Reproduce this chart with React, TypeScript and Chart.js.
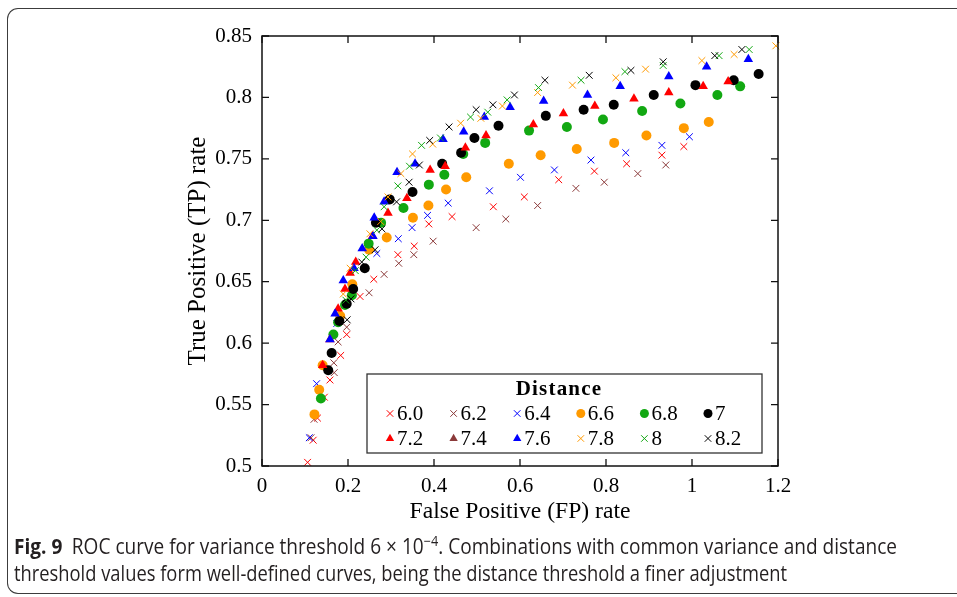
import React, { useEffect, useLayoutEffect, useRef } from 'react';
import { Chart, registerables } from 'chart.js';

Chart.register(...registerables);

// ---------- data ----------
const seriesLabels = ['6.0', '6.2', '6.4', '6.6', '6.8', '7', '7.2', '7.4', '7.6', '7.8', '8', '8.2'];

const d60: [number, number][] = [
  [0.106, 0.503], [0.119, 0.521], [0.129, 0.539], [0.145, 0.556], [0.158, 0.570], [0.183, 0.590],
  [0.197, 0.607], [0.228, 0.638], [0.260, 0.652], [0.316, 0.672], [0.354, 0.679], [0.388, 0.697],
  [0.442, 0.703], [0.538, 0.711], [0.610, 0.719], [0.690, 0.733], [0.773, 0.740], [0.848, 0.746],
  [0.930, 0.753], [0.981, 0.760],
];
const d62: [number, number][] = [
  [0.114, 0.523], [0.121, 0.538], [0.168, 0.576], [0.167, 0.584], [0.177, 0.601], [0.197, 0.613],
  [0.249, 0.641], [0.284, 0.656], [0.318, 0.665], [0.353, 0.672], [0.398, 0.683], [0.498, 0.694],
  [0.567, 0.701], [0.641, 0.712], [0.730, 0.726], [0.796, 0.731], [0.874, 0.738], [0.939, 0.745],
];
const d64: [number, number][] = [
  [0.110, 0.523], [0.127, 0.567], [0.174, 0.616], [0.267, 0.673], [0.317, 0.685], [0.349, 0.694],
  [0.385, 0.704], [0.433, 0.714], [0.529, 0.724], [0.601, 0.735], [0.680, 0.741], [0.765, 0.749],
  [0.846, 0.755], [0.930, 0.761], [0.994, 0.768],
];
const d66: [number, number][] = [
  [0.122, 0.542], [0.133, 0.562], [0.141, 0.582], [0.182, 0.622], [0.210, 0.648], [0.249, 0.676],
  [0.290, 0.686], [0.351, 0.702], [0.387, 0.712], [0.428, 0.725], [0.475, 0.735], [0.574, 0.746],
  [0.648, 0.753], [0.732, 0.758], [0.819, 0.763], [0.894, 0.769], [0.981, 0.775], [1.039, 0.780],
];
const d68: [number, number][] = [
  [0.137, 0.555], [0.166, 0.607], [0.177, 0.617], [0.193, 0.631], [0.209, 0.639], [0.248, 0.681],
  [0.277, 0.698], [0.329, 0.710], [0.388, 0.729], [0.424, 0.737], [0.468, 0.754], [0.519, 0.763],
  [0.621, 0.773], [0.709, 0.776], [0.793, 0.782], [0.884, 0.789], [0.973, 0.795], [1.059, 0.802],
  [1.112, 0.809],
];
const d70: [number, number][] = [
  [0.154, 0.578], [0.162, 0.592], [0.180, 0.618], [0.197, 0.632], [0.212, 0.644], [0.239, 0.661],
  [0.265, 0.698], [0.297, 0.717], [0.350, 0.723], [0.419, 0.746], [0.463, 0.755], [0.494, 0.767],
  [0.550, 0.777], [0.660, 0.785], [0.748, 0.790], [0.818, 0.794], [0.911, 0.802], [1.008, 0.810],
  [1.097, 0.814], [1.155, 0.819],
];
const d72: [number, number][] = [
  [0.141, 0.582], [0.158, 0.603], [0.177, 0.628], [0.193, 0.644], [0.205, 0.657], [0.218, 0.666],
  [0.257, 0.687], [0.293, 0.706], [0.337, 0.718], [0.391, 0.741], [0.426, 0.744], [0.473, 0.759],
  [0.521, 0.769], [0.631, 0.778], [0.701, 0.787], [0.774, 0.793], [0.865, 0.799], [0.946, 0.804],
  [1.026, 0.809], [1.084, 0.813],
];
const d74: [number, number][] = [];
const d76: [number, number][] = [
  [0.158, 0.603], [0.170, 0.624], [0.189, 0.651], [0.214, 0.661], [0.233, 0.677], [0.258, 0.687],
  [0.261, 0.702], [0.284, 0.715], [0.314, 0.739], [0.356, 0.746], [0.421, 0.766], [0.469, 0.772],
  [0.517, 0.784], [0.577, 0.792], [0.655, 0.797], [0.757, 0.802], [0.833, 0.809], [0.946, 0.817],
  [1.034, 0.825], [1.131, 0.831],
];
const d78: [number, number][] = [
  [0.189, 0.640], [0.205, 0.661], [0.251, 0.689], [0.276, 0.699], [0.293, 0.719], [0.323, 0.738],
  [0.350, 0.754], [0.397, 0.762], [0.462, 0.779], [0.509, 0.783], [0.559, 0.793], [0.641, 0.804],
  [0.722, 0.810], [0.823, 0.816], [0.892, 0.823], [1.023, 0.830], [1.098, 0.835], [1.195, 0.842],
];
const d80: [number, number][] = [
  [0.195, 0.635], [0.217, 0.659], [0.242, 0.670], [0.267, 0.692], [0.284, 0.711], [0.316, 0.728],
  [0.343, 0.744], [0.371, 0.761], [0.415, 0.767], [0.485, 0.784], [0.525, 0.788], [0.570, 0.798],
  [0.643, 0.808], [0.742, 0.814], [0.844, 0.821], [0.933, 0.826], [1.063, 0.834], [1.133, 0.839],
];
const d82: [number, number][] = [
  [0.198, 0.619], [0.207, 0.636], [0.232, 0.666], [0.263, 0.676], [0.279, 0.693], [0.313, 0.715],
  [0.342, 0.731], [0.366, 0.745], [0.390, 0.765], [0.435, 0.776], [0.498, 0.790], [0.537, 0.794],
  [0.587, 0.802], [0.658, 0.814], [0.761, 0.818], [0.858, 0.822], [0.933, 0.829], [1.053, 0.834],
  [1.116, 0.839],
];

const seriesData = [d60, d62, d64, d66, d68, d70, d72, d74, d76, d78, d80, d82];

const xTickValues = [0, 0.2, 0.4, 0.6, 0.8, 1, 1.2];
const xTickLabels = ['0', '0.2', '0.4', '0.6', '0.8', '1', '1.2'];
const yTickValues = [0.5, 0.55, 0.6, 0.65, 0.7, 0.75, 0.8, 0.85];
const yTickLabels = ['0.5', '0.55', '0.6', '0.65', '0.7', '0.75', '0.8', '0.85'];

const xTitle = 'False Positive (FP) rate';
const yTitle = 'True Positive (TP) rate';
const legendTitle = 'Distance';

// ---------- styles ----------
const RED = '#ff0000';
const BROWN = '#8b3a3a';
const BLUE = '#0000ff';
const ORANGE = '#ff9a00';
const GREEN = '#12a812';
const BLACK = '#000000';
const seriesColors = [RED, BROWN, BLUE, ORANGE, GREEN, BLACK, RED, BROWN, BLUE, ORANGE, GREEN, BLACK];
const seriesMarkers = ['crossRot', 'crossRot', 'crossRot', 'circle', 'circle', 'circle',
  'triangle', 'triangle', 'triangle', 'crossRot', 'crossRot', 'crossRot'];

const SERIF = '"Liberation Serif", "Times New Roman", serif';

function markerRadius(style: string, legend: boolean) {
  if (style === 'crossRot') return legend ? 4.6 : 4.8;
  if (style === 'circle') return legend ? 4.5 : 5;
  return legend ? 4.8 : 5.5;
}

function drawMarker(ctx: CanvasRenderingContext2D, style: string, x: number, y: number, r: number, color: string) {
  ctx.save();
  ctx.fillStyle = color;
  ctx.strokeStyle = color;
  ctx.lineWidth = 1;
  ctx.beginPath();
  if (style === 'crossRot') {
    const o = r * Math.SQRT1_2;
    ctx.moveTo(x - o, y - o);
    ctx.lineTo(x + o, y + o);
    ctx.moveTo(x + o, y - o);
    ctx.lineTo(x - o, y + o);
    ctx.stroke();
  } else if (style === 'circle') {
    ctx.arc(x, y, r, 0, Math.PI * 2);
    ctx.fill();
  } else {
    const a = (2 * Math.PI) / 3;
    ctx.moveTo(x, y - r);
    ctx.lineTo(x + r * Math.sin(a), y - r * Math.cos(a));
    ctx.lineTo(x + r * Math.sin(2 * a), y - r * Math.cos(2 * a));
    ctx.closePath();
    ctx.fill();
  }
  ctx.restore();
}

const frameTicksPlugin = {
  id: 'frameTicks',
  afterDatasetsDraw(chart: any) {
    const { ctx, chartArea } = chart;
    const { left, right, top, bottom } = chartArea;
    const xs = chart.scales.x;
    const ys = chart.scales.y;
    const tl = 7;
    ctx.save();
    ctx.strokeStyle = '#111';
    ctx.lineWidth = 1.3;
    ctx.beginPath();
    xTickValues.forEach((v) => {
      const px = xs.getPixelForValue(v);
      ctx.moveTo(px, bottom);
      ctx.lineTo(px, bottom - tl);
      ctx.moveTo(px, top);
      ctx.lineTo(px, top + tl);
    });
    yTickValues.forEach((v) => {
      const py = ys.getPixelForValue(v);
      ctx.moveTo(left, py);
      ctx.lineTo(left + tl, py);
      ctx.moveTo(right, py);
      ctx.lineTo(right - tl, py);
    });
    ctx.stroke();
    ctx.lineWidth = 1.5;
    ctx.strokeRect(left, top, right - left, bottom - top);
    ctx.restore();
  },
};

const legendPlugin = {
  id: 'boxLegend',
  afterDraw(chart: any) {
    const { ctx, chartArea } = chart;
    const bw = 395;
    const bh = 79;
    const bx = chartArea.right - 16 - bw;
    const by = chartArea.bottom - 13 - bh;
    ctx.save();
    ctx.fillStyle = '#ffffff';
    ctx.fillRect(bx, by, bw, bh);
    ctx.strokeStyle = '#333';
    ctx.lineWidth = 1.3;
    ctx.strokeRect(bx, by, bw, bh);

    ctx.fillStyle = '#000';
    ctx.font = `bold 21px ${SERIF}`;
    (ctx as any).letterSpacing = '1.2px';
    ctx.textAlign = 'center';
    ctx.textBaseline = 'alphabetic';
    ctx.fillText(legendTitle, bx + 192, by + 21);
    (ctx as any).letterSpacing = '0px';

    ctx.font = `21px ${SERIF}`;
    ctx.textAlign = 'left';
    seriesLabels.forEach((lab, i) => {
      const col = i % 6;
      const row = Math.floor(i / 6);
      const mx = bx + 23 + col * 63.6;
      const my = by + 39.5 + row * 25;
      const st = seriesMarkers[i];
      drawMarker(ctx, st, mx, my, markerRadius(st, true), seriesColors[i]);
      ctx.fillStyle = '#000';
      ctx.fillText(lab, mx + 7, by + 46 + row * 25);
    });
    ctx.restore();
  },
};

export default function App() {
  const canvasRef = useRef<HTMLCanvasElement>(null);
  const cap1 = useRef<HTMLDivElement>(null);
  const cap2 = useRef<HTMLDivElement>(null);

  useLayoutEffect(() => {
    const fit = (el: HTMLDivElement | null, w: number) => {
      if (!el) return;
      el.style.transform = 'none';
      const m = el.getBoundingClientRect().width;
      if (m > 0) el.style.transform = `scaleX(${w / m})`;
    };
    fit(cap1.current, 883);
    fit(cap2.current, 773);
  }, []);

  useEffect(() => {
    if (!canvasRef.current) return;
    const chart = new Chart(canvasRef.current, {
      type: 'scatter',
      data: {
        datasets: seriesData.map((d, i) => {
          const st = seriesMarkers[i];
          return {
            label: seriesLabels[i],
            data: d.map(([x, y]) => ({ x, y })),
            pointStyle: st as any,
            pointRadius: markerRadius(st, false),
            pointHoverRadius: markerRadius(st, false),
            backgroundColor: seriesColors[i],
            borderColor: seriesColors[i],
            pointBorderWidth: st === 'crossRot' ? 1 : 0,
            showLine: false,
            clip: false as any,
            order: -i,
          };
        }),
      },
      options: {
        responsive: false,
        animation: false,
        devicePixelRatio: 1,
        events: [],
        layout: { padding: { left: 0, top: 36, right: 179, bottom: 0 } },
        plugins: {
          legend: { display: false },
          tooltip: { enabled: false },
          title: { display: false },
        },
        scales: {
          x: {
            type: 'linear',
            min: 0,
            max: 1.2,
            grid: { display: false, drawTicks: false },
            border: { display: false },
            afterFit: (s: any) => { s.height = 131; },
            afterBuildTicks: (s: any) => { s.ticks = xTickValues.map((v) => ({ value: v })); },
            ticks: {
              color: '#000',
              padding: 8,
              maxRotation: 0,
              autoSkip: false,
              font: { family: SERIF, size: 21 },
              callback: (_v: any, idx: number) => xTickLabels[idx],
            },
            title: {
              display: true,
              text: xTitle,
              color: '#000',
              font: { family: SERIF, size: 23.6 },
              padding: { top: 0, bottom: 70.8 },
            },
          },
          y: {
            type: 'linear',
            min: 0.5,
            max: 0.85,
            grid: { display: false, drawTicks: false },
            border: { display: false },
            afterFit: (s: any) => { s.width = 262; },
            afterBuildTicks: (s: any) => { s.ticks = yTickValues.map((v) => ({ value: v })); },
            ticks: {
              color: '#000',
              padding: 10,
              autoSkip: false,
              font: { family: SERIF, size: 21 },
              callback: (_v: any, idx: number) => yTickLabels[idx],
            },
            title: {
              display: true,
              text: yTitle,
              color: '#000',
              font: { family: SERIF, size: 25 },
              padding: { top: 183, bottom: 0 },
            },
          },
        },
      },
      plugins: [frameTicksPlugin, legendPlugin],
    });
    return () => chart.destroy();
  }, []);

  const capStyle: React.CSSProperties = {
    position: 'absolute',
    left: 14,
    whiteSpace: 'nowrap',
    fontFamily: '"Open Sans", "Noto Sans", sans-serif',
    fontSize: 21,
    lineHeight: '21px',
    color: '#231f20',
    transformOrigin: 'left top',
    display: 'inline-block',
  };

  return (
    <div style={{ position: 'fixed', left: 0, top: 0, width: 957, height: 597, overflow: 'hidden', background: '#fff' }}>
      <div
        style={{
          position: 'absolute', left: 7, top: 8, width: 990, height: 586, boxSizing: 'border-box',
          border: '1.5px solid #3c3c3c', borderRight: 'none', borderRadius: '11px 0 0 11px',
        }}
      />
      <canvas ref={canvasRef} width={957} height={597} style={{ position: 'absolute', left: 0, top: 0, width: 957, height: 597 }} />
      <div ref={cap1} style={{ ...capStyle, top: 536 }}>
        <b>Fig. 9</b>{'\u2002'}ROC curve for variance threshold 6 × 10<span style={{ fontSize: 14, position: 'relative', top: -8 }}>−4</span>. Combinations with common variance and distance
      </div>
      <div ref={cap2} style={{ ...capStyle, top: 563 }}>
        threshold values form well-defined curves, being the distance threshold a finer adjustment
      </div>
    </div>
  );
}
